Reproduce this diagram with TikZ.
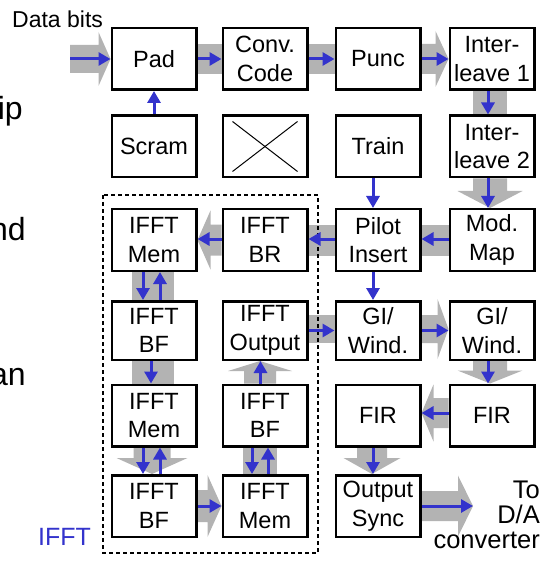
\documentclass[tikz,border=0pt]{standalone}
\usepackage{fontspec}
\setmainfont{Liberation Sans}
\usetikzlibrary{arrows.meta,calc}
\definecolor{flowblue}{RGB}{51,51,204}
\definecolor{bandgray}{RGB}{179,179,179}
\pgfdeclarelayer{bg}
\pgfsetlayers{bg,main}

% wide grey arrow: start, tip, band half width, head half width, head length
\newcommand\fatarrow[5]{%
  \coordinate (fa-s) at (#1);
  \coordinate (fa-t) at (#2);
  \coordinate (fa-b) at ($(fa-t)!#5!(fa-s)$);
  \fill[band] ($(fa-s)!#3!90:(fa-t)$) -- ($(fa-b)!#3!-90:(fa-s)$)
    -- ($(fa-b)!#4!-90:(fa-s)$) -- (fa-t) -- ($(fa-b)!#4!90:(fa-s)$)
    -- ($(fa-b)!#3!90:(fa-s)$) -- ($(fa-s)!#3!-90:(fa-t)$) -- cycle;}
% wide grey band without head: start, end, half width
\newcommand\fatband[3]{%
  \coordinate (fb-s) at (#1);
  \coordinate (fb-t) at (#2);
  \fill[band] ($(fb-s)!#3!90:(fb-t)$) -- ($(fb-t)!#3!-90:(fb-s)$)
    -- ($(fb-t)!#3!90:(fb-s)$) -- ($(fb-s)!#3!-90:(fb-t)$) -- cycle;}

\begin{document}
\begin{tikzpicture}[x=1bp,y=-1bp,
  blk/.style={draw, line width=2.5bp, fill=white, minimum width=84.5bp,
    minimum height=61.5bp, inner sep=0pt, align=center,
    font=\fontsize{23.5bp}{28.5bp}\selectfont},
  flow/.style={draw=flowblue, line width=3bp, -{Triangle[length=12bp,width=13bp]}},
  band/.style={fill=bandgray},
  frame/.style={draw, line width=1.1bp, dash pattern=on 4bp off 3bp},
  sidetext/.style={inner sep=0pt, font=\fontsize{32bp}{38bp}\selectfont},
]
\useasboundingbox (0,0) rectangle (543,561);

% processing blocks
\node[blk] (pad)   at (154,59)    {Pad};
\node[blk] (conv)  at (265,59)    {Conv.\\Code};
\node[blk] (punc)  at (378,59)    {Punc};
\node[blk] (il1)   at (492,59)    {Inter-\\leave 1};
\node[blk] (scram) at (154,146.5) {Scram};
\node[blk] (cross) at (265,146.5) {};
\node[blk] (train) at (378,146.5) {Train};
\node[blk] (il2)   at (492,146.5) {Inter-\\leave 2};
\node[blk] (mem1)  at (154,240)   {IFFT\\Mem};
\node[blk] (br)    at (265,240)   {IFFT\\BR};
\node[blk] (pilot) at (378,240)   {Pilot\\Insert};
\node[blk] (mod)   at (492,240)   {Mod.\\Map};
\node[blk, minimum height=58.5bp] (bf1) at (154,330.5) {IFFT\\BF};
\node[blk, minimum height=58.5bp] (out) at (265,330.5) {IFFT\\Output};
\node[blk, minimum height=58.5bp] (gi1) at (378,330.5) {GI/\\Wind.};
\node[blk, minimum height=58.5bp] (gi2) at (492,330.5) {GI/\\Wind.};
\node[blk] (mem2)  at (154,415.5) {IFFT\\Mem};
\node[blk] (bf2)   at (265,415.5) {IFFT\\BF};
\node[blk] (fir1)  at (378,415.5) {FIR};
\node[blk] (fir2)  at (492,415.5) {FIR};
\node[blk] (bf3)   at (154,506)   {IFFT\\BF};
\node[blk] (mem3)  at (265,506)   {IFFT\\Mem};
\node[blk] (sync)  at (378,506)   {Output\\Sync};

\draw[line width=1bp] ([shift={(11bp,-7bp)}]cross.north west) -- ([shift={(-11bp,7bp)}]cross.south east);
\draw[line width=1bp] ([shift={(11bp,7bp)}]cross.south west) -- ([shift={(-11bp,-7bp)}]cross.north east);

\coordinate (din) at (70,59);
\coordinate (dout) at (473,506);

% IFFT group frame
\draw[frame] (103,195) rectangle (318,553);

% grey data-path bands
\begin{pgfonlayer}{bg}
\fatarrow{din}{pad.west}{14bp}{27bp}{12bp}
\fatband{pad.east}{conv.west}{15bp}
\fatband{conv.east}{punc.west}{15bp}
\fatarrow{punc.east}{il1.west}{15bp}{28bp}{13bp}
\fatband{[xshift=-2bp]il1.south}{[xshift=-2bp]il2.north}{17bp}
\fatarrow{[xshift=-2bp]il2.south}{[xshift=-2bp]mod.north}{17bp}{32.5bp}{17bp}
\fatband{mod.west}{pilot.east}{15.5bp}
\fatband{pilot.west}{br.east}{15.5bp}
\fatarrow{br.west}{mem1.east}{15.5bp}{29.5bp}{13bp}
\fatband{[yshift=1.5bp]out.east}{[yshift=1.5bp]gi1.west}{14bp}
\fatarrow{[yshift=1.5bp]gi1.east}{[yshift=1.5bp]gi2.west}{14bp}{30bp}{11bp}
\fatarrow{[xshift=-2bp]gi2.south}{[xshift=-2bp]fir2.north}{17bp}{32.5bp}{13bp}
\fatarrow{[yshift=2.5bp]fir2.west}{[yshift=2.5bp]fir1.east}{15bp}{28.5bp}{12bp}
\fatarrow{[xshift=-6bp]fir1.south}{[xshift=-6bp]sync.north}{15bp}{28.5bp}{16bp}
\fatarrow{sync.east}{dout}{15bp}{30.5bp}{15bp}
\fatband{[xshift=-1bp]mem1.south}{[xshift=-1bp]bf1.north}{21bp}
\fatband{[xshift=-1bp]bf1.south}{[xshift=-1bp]mem2.north}{21bp}
\fatarrow{[xshift=-2bp]mem2.south}{[xshift=-2bp]bf3.north}{18.5bp}{35.5bp}{16bp}
\fatarrow{bf3.east}{mem3.west}{16bp}{31bp}{14bp}
\fatband{[xshift=-5bp]mem3.north}{[xshift=-5bp]bf2.south}{17bp}
\fatarrow{[xshift=-5bp]bf2.north}{[xshift=-5bp]out.south}{16bp}{32bp}{10bp}
\end{pgfonlayer}

% blue control/data flow arrows
\draw[flow] (din) -- (pad.west);
\draw[flow] (pad.east) -- (conv.west);
\draw[flow] (conv.east) -- (punc.west);
\draw[flow] (punc.east) -- (il1.west);
\draw[flow] (scram.north) -- (pad.south);
\draw[flow] ([xshift=-4bp]il1.south) -- ([xshift=-4bp]il2.north);
\draw[flow] ([xshift=-4bp]il2.south) -- ([xshift=-4bp]mod.north);
\draw[flow] ([xshift=-5bp]train.south) -- ([xshift=-5bp]pilot.north);
\draw[flow] ([yshift=1bp]mod.west) -- ([yshift=1bp]pilot.east);
\draw[flow] ([yshift=1bp]pilot.west) -- ([yshift=1bp]br.east);
\draw[flow] ([yshift=1bp]br.west) -- ([yshift=1bp]mem1.east);
\draw[flow] ([xshift=-5bp]pilot.south) -- ([xshift=-5bp]gi1.north);
\draw[flow] (out.east) -- (gi1.west);
\draw[flow] (gi1.east) -- (gi2.west);
\draw[flow] ([xshift=-4bp]gi2.south) -- ([xshift=-4bp]fir2.north);
\draw[flow] ([yshift=2.5bp]fir2.west) -- ([yshift=2.5bp]fir1.east);
\draw[flow] ([xshift=-5bp]fir1.south) -- ([xshift=-5bp]sync.north);
\draw[flow] (sync.east) -- (dout);
\draw[flow] ([xshift=-11bp]mem1.south) -- ([xshift=-11bp]bf1.north);
\draw[flow] ([xshift=6bp]bf1.north) -- ([xshift=6bp]mem1.south);
\draw[flow] ([xshift=-3bp]bf1.south) -- ([xshift=-3bp]mem2.north);
\draw[flow] ([xshift=-11bp]mem2.south) -- ([xshift=-11bp]bf3.north);
\draw[flow] ([xshift=6bp]bf3.north) -- ([xshift=6bp]mem2.south);
\draw[flow] (bf3.east) -- (mem3.west);
\draw[flow] ([xshift=-13bp]bf2.south) -- ([xshift=-13bp]mem3.north);
\draw[flow] ([xshift=3bp]mem3.north) -- ([xshift=3bp]bf2.south);
\draw[flow] ([xshift=-4.5bp]bf2.north) -- ([xshift=-4.5bp]out.south);

% labels
\node[inner sep=0pt, anchor=base west, font=\fontsize{23bp}{27bp}\selectfont] (databits) at (12,28) {Data bits};
\node[inner sep=0pt, anchor=base west, text=flowblue, font=\fontsize{25bp}{30bp}\selectfont] (iffttag) at (38,545) {IFFT};
\node[inner sep=0pt, anchor=east, align=right, font=\fontsize{25.5bp}{25bp}\selectfont] (dac) at (540,515) {To\\D/A\\converter};
\node[sidetext, anchor=base east] (fragA) at (23,120) {ip};
\node[sidetext, anchor=base east] (fragB) at (26,240) {nd};
\node[sidetext, anchor=base east] (fragC) at (26,385) {an};
\end{tikzpicture}
\end{document}
